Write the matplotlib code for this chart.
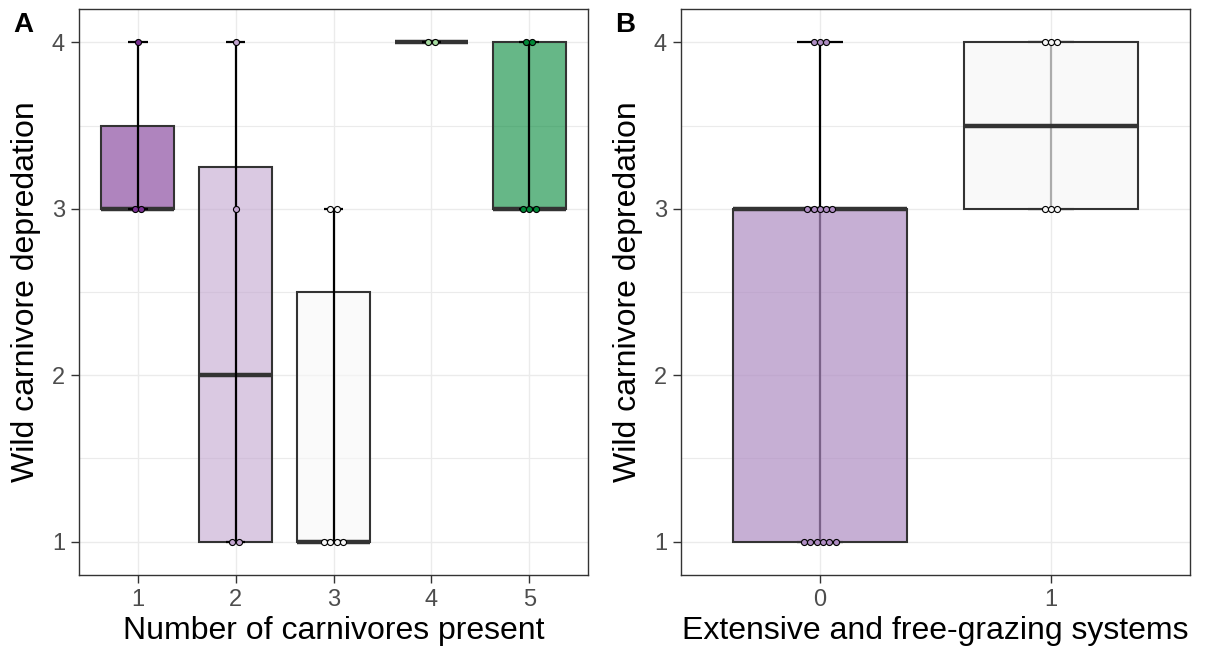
import matplotlib
matplotlib.use('Agg')
import matplotlib.pyplot as plt
import numpy as np
from matplotlib.patches import Rectangle
from matplotlib.colors import to_rgba
from collections import Counter

plt.rcParams['font.family'] = ['Liberation Sans', 'DejaVu Sans']

# ---------------- data ----------------
# Panel A: wild carnivore depredation by number of carnivores present
a_categories = ['1', '2', '3', '4', '5']
a_group1 = [3, 3, 4]
a_group2 = [1, 1, 3, 4]
a_group3 = [1, 1, 1, 1, 3, 3]
a_group4 = [4, 4]
a_group5 = [3, 3, 3, 4, 4]
a_fills = ['#7B3294', '#C2A5CF', '#F7F7F7', '#A6DBA0', '#008837']

# Panel B: by extensive / free-grazing systems
b_categories = ['0', '1']
b_group0 = [1, 1, 1, 1, 1, 1, 3, 3, 3, 3, 3, 4, 4, 4]
b_group1 = [3, 3, 3, 4, 4, 4]
b_fills = ['#AF8DC3', '#F7F7F7']

y_ticks = [1, 2, 3, 4]
y_label = 'Wild carnivore depredation'
a_xlabel = 'Number of carnivores present'
b_xlabel = 'Extensive and free-grazing systems'

# ---------------- figure ----------------
W, H = 1206, 652
fig = plt.figure(figsize=(W / 100, H / 100), dpi=100)

axA = fig.add_axes([79 / W, 1 - 575 / H, 509 / W, 566 / H])
axB = fig.add_axes([681 / W, 1 - 575 / H, 509 / W, 566 / H])

DOT_PX = 6.3
TITLE_SIZE = 23


def style_axis(ax, cats, xlabel):
    n = len(cats)
    ax.set_xlim(0.4, n + 0.6)
    ax.set_ylim(0.8, 4.2)
    ax.set_xticks(range(1, n + 1))
    ax.set_xticklabels(cats)
    ax.set_yticks(y_ticks)
    ax.set_yticklabels([str(t) for t in y_ticks])
    ax.set_yticks([1.5, 2.5, 3.5], minor=True)
    ax.tick_params(axis='both', which='major', labelsize=17, labelcolor='#4D4D4D',
                   color='#333333', length=6, width=1.0, pad=4)
    ax.tick_params(axis='y', which='minor', length=0)
    ax.grid(True, which='major', color='#EBEBEB', lw=1.0, zorder=0)
    ax.grid(True, which='minor', axis='y', color='#EBEBEB', lw=0.8, zorder=0)
    ax.set_axisbelow(True)
    for s in ax.spines.values():
        s.set_color('#333333')
        s.set_linewidth(1.0)
    ax.set_xlabel(xlabel, fontsize=TITLE_SIZE, color='black', labelpad=4)
    ax.set_ylabel(y_label, fontsize=TITLE_SIZE, color='black', labelpad=8)


def draw_panel(ax, groups, fills, alpha, line_over):
    bbox = ax.get_position()
    xl = ax.get_xlim()
    px_per_unit = bbox.width * W / (xl[1] - xl[0])
    d = DOT_PX / px_per_unit
    z_line = 4 if line_over else 2
    for i, (vals, col) in enumerate(zip(groups, fills)):
        x = i + 1
        vals = np.asarray(vals, dtype=float)
        q1, med, q3 = np.percentile(vals, [25, 50, 75])
        iqr = q3 - q1
        lo = vals[vals >= q1 - 1.5 * iqr].min()
        hi = vals[vals <= q3 + 1.5 * iqr].max()
        # error bar (whiskers)
        ax.plot([x, x], [lo, hi], color='black', lw=1.6, zorder=z_line, solid_capstyle='butt')
        for yv in (lo, hi):
            ax.plot([x - 0.1, x + 0.1], [yv, yv], color='black', lw=1.6, zorder=z_line,
                    solid_capstyle='butt')
        # box
        rect = Rectangle((x - 0.375, q1), 0.75, q3 - q1, facecolor=to_rgba(col, alpha),
                         edgecolor='#333333', lw=1.5, zorder=3)
        ax.add_patch(rect)
        ax.plot([x - 0.375, x + 0.375], [med, med], color='#333333', lw=3.2,
                solid_capstyle='butt', zorder=3.5)
        # dots, stacked centred
        cnt = Counter(vals.tolist())
        for v, n in cnt.items():
            offs = (np.arange(n) - (n - 1) / 2) * d
            ax.scatter(x + offs, [v] * n, s=19, facecolor=col, edgecolor='black',
                       lw=0.8, zorder=5)


style_axis(axA, a_categories, a_xlabel)
style_axis(axB, b_categories, b_xlabel)
draw_panel(axA, [a_group1, a_group2, a_group3, a_group4, a_group5], a_fills, 0.6, True)
draw_panel(axB, [b_group0, b_group1], b_fills, 0.7, False)

fig.text(13 / W, 1 - 12 / H, 'A', fontsize=20, fontweight='bold', va='top', ha='left')
fig.text(615 / W, 1 - 12 / H, 'B', fontsize=20, fontweight='bold', va='top', ha='left')

fig.savefig('out.png', dpi=100, facecolor='white')
